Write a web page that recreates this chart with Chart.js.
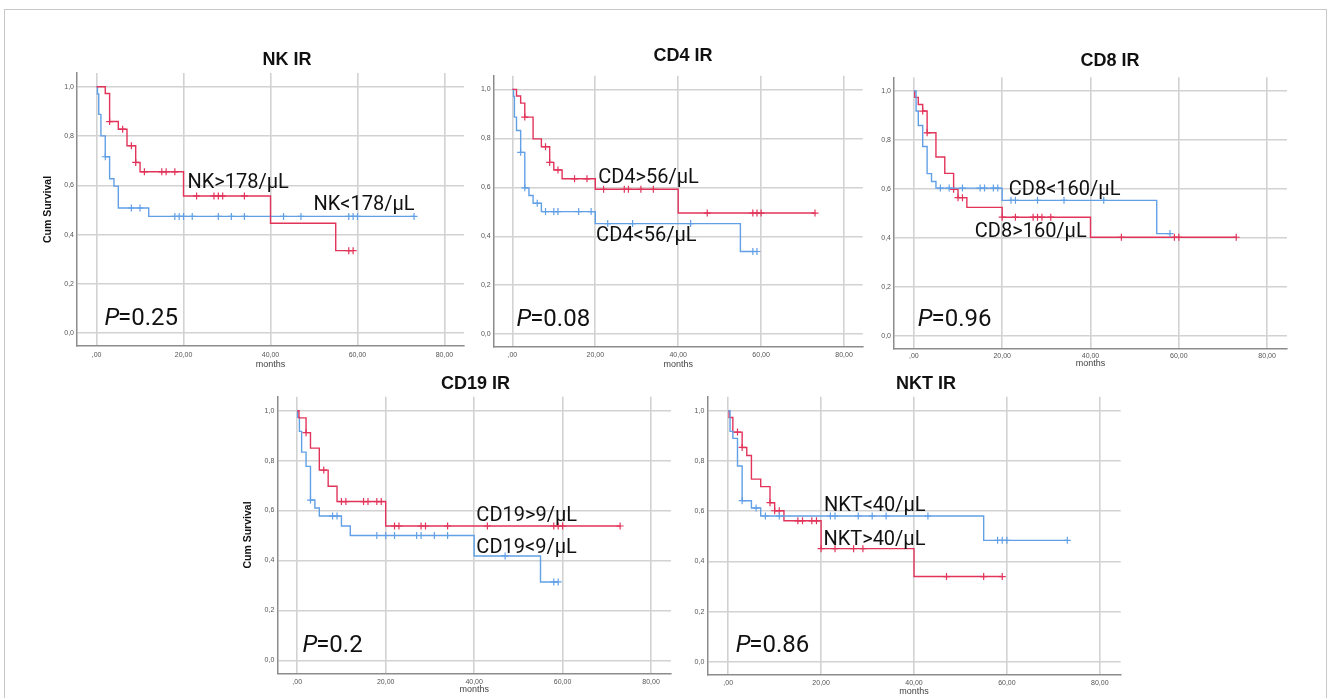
<!DOCTYPE html>
<html>
<head>
<meta charset="utf-8">
<script src="https://cdn.jsdelivr.net/npm/chart.js@4.4.1/dist/chart.umd.min.js"></script>
<style>
  body { margin: 0; background: #fff; width: 1328px; height: 698px; overflow: hidden; position: relative; }
  #frame { position: absolute; left: 4px; top: 9px; width: 1323px; height: 700px; box-sizing: border-box; border: 1px solid #c8c8c8; border-bottom: none; }
  canvas { position: absolute; }
</style>
</head>
<body>
<div id="frame"></div>
<canvas id="nk"></canvas>
<canvas id="cd4"></canvas>
<canvas id="cd8"></canvas>
<canvas id="cd19"></canvas>
<canvas id="nkt"></canvas>
<script>
// axis ticks shared by all panels
const monthTicks = [0, 20, 40, 60, 80];
const survTicks = [0, 0.2, 0.4, 0.6, 0.8, 1.0];

// NK IR
const nkHighTimes = [2, 3, 5, 7, 9, 10, 20, 40, 55];
const nkHighSurv = [0.973, 0.859, 0.828, 0.761, 0.693, 0.655, 0.557, 0.446, 0.335];
const nkHighCens = [3, 6, 8, 9, 11, 15, 16, 18, 23, 27, 28, 29, 34, 58, 59];
const nkLowTimes = [0.2, 0.5, 1, 2, 3, 4, 5, 12];
const nkLowSurv = [0.971, 0.888, 0.801, 0.716, 0.627, 0.597, 0.508, 0.474];
const nkLowCens = [2, 8, 10, 18, 19, 20, 22, 28, 31, 34, 43, 47, 58, 59, 60, 73];

// CD4 IR
const cd4HighTimes = [1, 2, 3, 5, 7, 9, 10, 12, 20, 40];
const cd4HighSurv = [0.973, 0.944, 0.887, 0.798, 0.766, 0.702, 0.671, 0.635, 0.592, 0.495];
const cd4HighCens = [3, 8, 9, 11, 15, 18, 22, 27, 28, 31, 34, 47, 58, 59, 60, 73];
const cd4LowTimes = [0.3, 0.5, 1, 2, 3, 4, 5, 7, 20, 55];
const cd4LowSurv = [0.971, 0.887, 0.832, 0.743, 0.598, 0.567, 0.535, 0.501, 0.452, 0.338];
const cd4LowCens = [2, 3, 6, 8, 10, 11, 16, 19, 23, 29, 43, 58, 59];

// CD8 IR
const cd8LowTimes = [0.5, 1, 2, 3, 4, 5, 20, 55];
const cd8LowSurv = [0.918, 0.859, 0.773, 0.662, 0.630, 0.603, 0.553, 0.417];
const cd8LowCens = [6, 8, 11, 15, 16, 18, 19, 22, 23, 28, 34, 43, 58];
const cd8HighTimes = [0.2, 1, 2, 3, 5, 7, 9, 10, 12, 20, 40];
const cd8HighSurv = [0.974, 0.945, 0.918, 0.829, 0.730, 0.663, 0.598, 0.564, 0.524, 0.484, 0.402];
const cd8HighCens = [2, 3, 9, 10, 11, 20, 23, 27, 28, 29, 31, 47, 59, 60, 73];

// CD19 IR
const cd19HighTimes = [0.4, 2, 3, 5, 7, 9, 20];
const cd19HighSurv = [0.971, 0.912, 0.850, 0.762, 0.697, 0.636, 0.538];
const cd19HighCens = [2, 6, 10, 11, 15, 16, 18, 19, 22, 23, 28, 29, 34, 43, 58, 59, 60, 73];
const cd19LowTimes = [0.1, 0.5, 1, 2, 3, 4, 5, 10, 12, 40, 55];
const cd19LowSurv = [0.973, 0.917, 0.834, 0.777, 0.642, 0.610, 0.578, 0.538, 0.500, 0.418, 0.314];
const cd19LowCens = [3, 8, 9, 18, 20, 22, 27, 28, 31, 34, 47, 58, 59];

// NKT IR
const nktLowTimes = [0.4, 1, 2, 3, 5, 7, 55];
const nktLowSurv = [0.918, 0.890, 0.780, 0.642, 0.613, 0.581, 0.484];
const nktLowCens = [3, 6, 8, 11, 22, 23, 28, 31, 34, 43, 58, 59, 60, 73];
const nktHighTimes = [0.2, 1, 3, 4, 5, 7, 9, 10, 12, 20, 40];
const nktHighSurv = [0.973, 0.915, 0.854, 0.822, 0.728, 0.698, 0.634, 0.602, 0.562, 0.451, 0.340];
const nktHighCens = [2, 3, 9, 10, 11, 15, 16, 18, 19, 20, 23, 27, 29, 47, 55, 59];

const RED = '#e2345a';
const BLUE = '#62a0e6';

function survAt(times, surv, t) {
  let s = 1;
  times.forEach((ti, i) => { if (ti <= t) s = surv[i]; });
  return s;
}

function stepPoints(times, surv, cens) {
  const pts = [{ x: 0, y: 1 }];
  times.forEach((t, i) => pts.push({ x: t, y: surv[i] }));
  const end = Math.max(...cens, times[times.length - 1]);
  pts.push({ x: end, y: surv[surv.length - 1] });
  return pts;
}

function censPoints(times, surv, cens) {
  return cens.map(t => ({ x: t, y: survAt(times, surv, t) }));
}

// box = canvas [left, top, w, h]; plot = [left, top, right, bottom] in page px
const panels = [
  { id: 'nk', title: 'NK IR', box: [26, 36, 444, 339], plot: [77, 73, 464, 346], titleAt: [287, 65],
    yTitle: 15.7, xTitlePad: 4.6, tickPad: 4.8, p: '0.25', pAt: [1.8, 0.032],
    groups: [
      { label: 'NK>178/µL', color: RED, times: nkHighTimes, surv: nkHighSurv, cens: nkHighCens, at: [20.9, 0.589] },
      { label: 'NK<178/µL', color: BLUE, times: nkLowTimes, surv: nkLowSurv, cens: nkLowCens, at: [49.9, 0.499] }
    ] },
  { id: 'cd4', title: 'CD4 IR', box: [455, 36, 413, 339], plot: [493.7, 75.7, 862.7, 347], titleAt: [683, 60.7],
    yTitle: null, xTitlePad: 4.6, tickPad: 3.8, p: '0.08', pAt: [1.0, 0.035],
    groups: [
      { label: 'CD4>56/µL', color: RED, times: cd4HighTimes, surv: cd4HighSurv, cens: cd4HighCens, at: [20.7, 0.619] },
      { label: 'CD4<56/µL', color: BLUE, times: cd4LowTimes, surv: cd4LowSurv, cens: cd4LowCens, at: [20.2, 0.381] }
    ] },
  { id: 'cd8', title: 'CD8 IR', box: [868, 36, 425, 339], plot: [894, 77.3, 1287, 348.3], titleAt: [1110, 66],
    yTitle: null, xTitlePad: 6.3, tickPad: 3.2, p: '0.96', pAt: [0.9, 0.038],
    groups: [
      { label: 'CD8<160/µL', color: BLUE, times: cd8LowTimes, surv: cd8LowSurv, cens: cd8LowCens, at: [21.5, 0.574] },
      { label: 'CD8>160/µL', color: RED, times: cd8HighTimes, surv: cd8HighSurv, cens: cd8HighCens, at: [13.8, 0.404] }
    ] },
  { id: 'cd19', title: 'CD19 IR', box: [228, 362, 449, 336], plot: [277.3, 396.7, 671, 673.3], titleAt: [475.5, 389.3],
    yTitle: 13.7, xTitlePad: 3.3, tickPad: 4.2, p: '0.2', pAt: [1.2, 0.032],
    groups: [
      { label: 'CD19>9/µL', color: RED, times: cd19HighTimes, surv: cd19HighSurv, cens: cd19HighCens, at: [40.5, 0.559] },
      { label: 'CD19<9/µL', color: BLUE, times: cd19LowTimes, surv: cd19LowSurv, cens: cd19LowCens, at: [40.5, 0.429] }
    ] },
  { id: 'nkt', title: 'NKT IR', box: [680, 362, 447, 336], plot: [707.3, 396.7, 1120.7, 675], titleAt: [926, 389.3],
    yTitle: null, xTitlePad: 0.9, tickPad: 4.1, p: '0.86', pAt: [1.6, 0.041],
    groups: [
      { label: 'NKT<40/µL', color: BLUE, times: nktLowTimes, surv: nktLowSurv, cens: nktLowCens, at: [20.6, 0.601] },
      { label: 'NKT>40/µL', color: RED, times: nktHighTimes, surv: nktHighSurv, cens: nktHighCens, at: [20.5, 0.466] }
    ] }
];

function drawText(chart, p) {
  const ctx = chart.ctx;
  const xs = chart.scales.x, ys = chart.scales.y;
  ctx.save();
  ctx.fillStyle = '#111';
  ctx.textBaseline = 'alphabetic';
  ctx.textAlign = 'center';
  ctx.font = 'bold 18px "Liberation Sans", Arial, sans-serif';
  ctx.fillText(p.title, p.titleAt[0] - p.box[0], p.titleAt[1] - p.box[1]);

  ctx.textAlign = 'left';
  ctx.font = '20px Roboto, sans-serif';
  p.groups.forEach(g => {
    ctx.fillText(g.label, xs.getPixelForValue(g.at[0]), ys.getPixelForValue(g.at[1]));
  });

  const px = xs.getPixelForValue(p.pAt[0]), py = ys.getPixelForValue(p.pAt[1]);
  ctx.font = 'italic 24px Roboto, sans-serif';
  ctx.fillText('P', px, py);
  const w = ctx.measureText('P').width;
  ctx.font = '24px Roboto, sans-serif';
  ctx.fillText('=' + p.p, px + w - 1, py);
  ctx.restore();
}

function drawPanel(p) {
  const [cx, cy, cw, ch] = p.box;
  const [L, T, R, B] = p.plot;
  const canvas = document.getElementById(p.id);
  canvas.width = cw;
  canvas.height = ch;
  canvas.style.left = cx + 'px';
  canvas.style.top = cy + 'px';

  const datasets = [];
  p.groups.forEach(g => {
    datasets.push({
      type: 'line', data: stepPoints(g.times, g.surv, g.cens),
      borderColor: g.color, borderWidth: 1.4, stepped: 'before', pointRadius: 0, fill: false
    });
    datasets.push({
      type: 'scatter', data: censPoints(g.times, g.surv, g.cens),
      borderColor: g.color, backgroundColor: g.color, pointStyle: 'cross',
      pointRadius: 3.5, borderWidth: 1.2, showLine: false
    });
  });

  const tickFont = { family: '"Liberation Sans", Arial, sans-serif', size: 7 };

  new Chart(canvas, {
    type: 'line',
    data: { datasets },
    options: {
      responsive: false,
      animation: false,
      events: [],
      layout: { padding: { top: T - cy, right: cx + cw - R, left: 0, bottom: 0 } },
      plugins: { legend: { display: false }, tooltip: { enabled: false } },
      scales: {
        x: {
          type: 'linear', min: -4.5, max: 84.5,
          afterBuildTicks: s => { s.ticks = monthTicks.map(v => ({ value: v })); },
          afterFit: s => { s.height = cy + ch - B; },
          grid: { color: '#d2d2d2', lineWidth: 1.6, drawTicks: false },
          border: { display: true, color: '#8c8c8c', width: 1.5 },
          ticks: {
            padding: p.tickPad, color: '#555', font: tickFont, maxRotation: 0,
            callback: v => v === 0 ? ',00' : v.toFixed(2).replace('.', ',')
          },
          title: {
            display: true, text: 'months', color: '#444',
            font: { family: '"Liberation Sans", Arial, sans-serif', size: 9 },
            padding: { top: 0, bottom: p.xTitlePad }
          }
        },
        y: {
          type: 'linear', min: -0.052, max: 1.056,
          afterBuildTicks: s => { s.ticks = survTicks.map(v => ({ value: v })); },
          afterFit: s => { s.width = L - cx; },
          grid: { color: '#d2d2d2', lineWidth: 1.6, drawTicks: false },
          border: { display: true, color: '#8c8c8c', width: 1.5 },
          ticks: {
            padding: 3, color: '#555', font: tickFont,
            callback: v => v.toFixed(1).replace('.', ',')
          },
          title: {
            display: p.yTitle !== null, text: 'Cum Survival', color: '#111',
            font: { family: '"Liberation Sans", Arial, sans-serif', size: 10.5, weight: 'bold' },
            padding: { top: p.yTitle || 0, bottom: 0 }
          }
        }
      }
    },
    plugins: [{ id: 'kmText', afterDraw: chart => drawText(chart, p) }]
  });
}

panels.forEach(drawPanel);
</script>
</body>
</html>
